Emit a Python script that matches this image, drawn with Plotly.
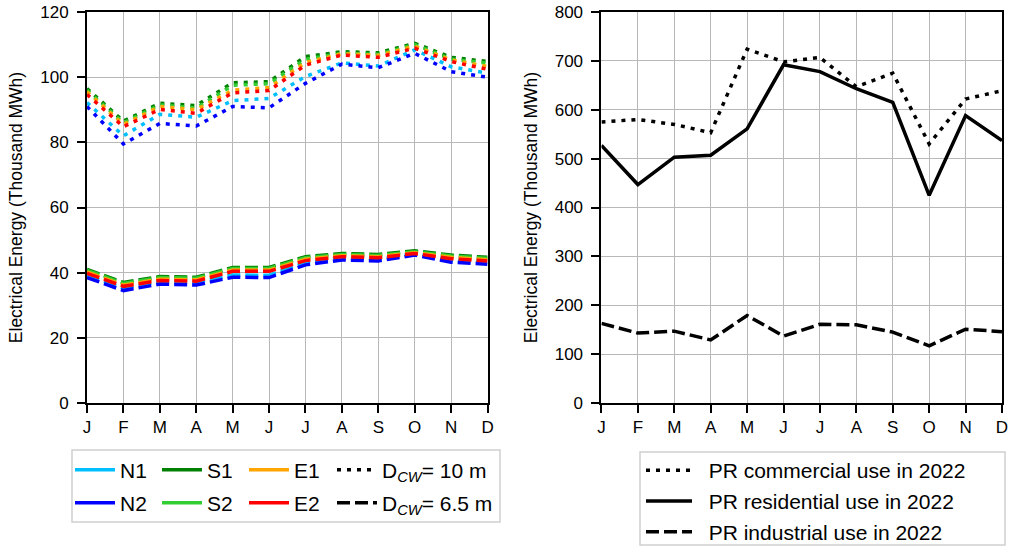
import plotly.graph_objects as go
from plotly.subplots import make_subplots

months = ['J', 'F', 'M', 'A', 'M', 'J', 'J', 'A', 'S', 'O', 'N', 'D']
xidx = list(range(len(months)))

# Left panel, D_CW = 10 m (dotted)
N1_10 = [92.2, 82.0, 88.6, 87.7, 92.8, 93.5, 100.2, 104.4, 103.4, 108.4, 103.2, 101.2]
N2_10 = [91.0, 79.5, 85.8, 85.0, 91.0, 90.6, 98.1, 104.0, 102.9, 107.3, 101.7, 100.0]
S1_10 = [96.5, 86.5, 92.0, 91.3, 98.3, 98.6, 106.3, 107.8, 107.5, 110.4, 106.1, 104.8]
S2_10 = [96.0, 86.0, 91.5, 90.5, 97.5, 98.0, 105.5, 107.3, 107.0, 110.0, 105.5, 104.3]
E1_10 = [95.5, 85.5, 91.0, 90.0, 96.0, 96.8, 104.5, 107.2, 106.7, 109.5, 105.3, 103.3]
E2_10 = [94.7, 84.8, 90.1, 88.9, 95.2, 95.9, 103.7, 106.8, 106.1, 108.9, 104.8, 102.4]

# Left panel, D_CW = 6.5 m (dashed)
N1_65 = [39.2, 35.2, 37.2, 36.9, 39.3, 39.2, 43.1, 44.5, 44.2, 45.8, 43.8, 43.2]
N2_65 = [38.5, 34.5, 36.5, 36.2, 38.6, 38.5, 42.4, 43.9, 43.6, 45.4, 43.2, 42.6]
S1_65 = [41.0, 37.0, 38.8, 38.6, 41.6, 41.6, 44.9, 45.9, 45.6, 46.7, 45.4, 44.7]
S2_65 = [40.7, 36.7, 38.5, 38.3, 41.3, 41.3, 44.6, 45.6, 45.3, 46.4, 45.1, 44.4]
E1_65 = [40.2, 36.2, 38.0, 37.8, 40.8, 40.8, 44.1, 45.2, 44.9, 46.1, 44.7, 44.0]
E2_65 = [39.8, 35.8, 37.6, 37.4, 40.4, 40.4, 43.7, 44.9, 44.6, 45.9, 44.3, 43.6]

# Right panel (PR use in 2022)
commercial = [575, 580, 570, 553, 724, 698, 707, 647, 675, 530, 622, 639]
residential = [527, 447, 503, 507, 561, 692, 678, 643, 615, 425, 588, 537]
industrial = [163, 143, 147, 129, 179, 137, 161, 160, 145, 117, 151, 146]

names = ['N1', 'N2', 'S1', 'S2', 'E1', 'E2']
colors = {'N1': '#00BFFF', 'N2': '#0000FF', 'S1': '#008000',
          'S2': '#32CD32', 'E1': '#FFA500', 'E2': '#FF0000'}
data10 = {'N1': N1_10, 'N2': N2_10, 'S1': S1_10, 'S2': S2_10, 'E1': E1_10, 'E2': E2_10}
data65 = {'N1': N1_65, 'N2': N2_65, 'S1': S1_65, 'S2': S2_65, 'E1': E1_65, 'E2': E2_65}

FONT = 'Arial, Liberation Sans, sans-serif'
DOT_L = '4px,6px'
DASH_L = '13px,5px'
LEGFONT = dict(family=FONT, size=21, color='black')
NB = '\u00a0\u00a0'

fig = make_subplots(rows=1, cols=2, horizontal_spacing=0.1245)

for n in names:
    fig.add_trace(go.Scatter(x=xidx, y=data10[n], mode='lines', showlegend=False,
                             line=dict(color=colors[n], width=3.5, dash=DOT_L)), row=1, col=1)
for n in names:
    fig.add_trace(go.Scatter(x=xidx, y=data65[n], mode='lines', showlegend=False,
                             line=dict(color=colors[n], width=3.5, dash=DASH_L)), row=1, col=1)

fig.add_trace(go.Scatter(x=xidx, y=commercial, mode='lines', name=NB + 'PR commercial use in 2022',
                         legend='legend6', legendgroup='c',
                         line=dict(color='black', width=3.5, dash=DOT_L)), row=1, col=2)
fig.add_trace(go.Scatter(x=xidx, y=residential, mode='lines', name=NB + 'PR residential use in 2022',
                         legend='legend6', legendgroup='r',
                         line=dict(color='black', width=3.5)), row=1, col=2)
fig.add_trace(go.Scatter(x=xidx, y=industrial, mode='lines', name=NB + 'PR industrial use in 2022',
                         legend='legend6', legendgroup='i',
                         line=dict(color='black', width=3.5, dash=DASH_L)), row=1, col=2)

# legend entries for left panel
for lg, row in (('legend', ['N1', 'S1', 'E1']), ('legend2', ['N2', 'S2', 'E2'])):
    for label in row:
        fig.add_trace(go.Scatter(x=[None], y=[None], mode='lines', name=label, legend=lg,
                                 line=dict(color=colors[label], width=3.5)), row=1, col=1)
fig.add_trace(go.Scatter(x=[None], y=[None], mode='lines', name='D<sub><i>CW</i></sub>= 10 m',
                         legend='legend4', line=dict(color='black', width=3.5, dash=DOT_L)),
              row=1, col=1)
fig.add_trace(go.Scatter(x=[None], y=[None], mode='lines', name='D<sub><i>CW</i></sub>= 6.5 m',
                         legend='legend5', line=dict(color='black', width=3.5, dash=DASH_L)),
              row=1, col=1)

axis_common = dict(showline=True, linecolor='black', linewidth=2, mirror=True,
                   ticks='outside', ticklen=8, tickwidth=1.5, tickcolor='black',
                   showgrid=True, gridcolor='#b8b8b8', gridwidth=1, zeroline=False,
                   tickfont=dict(family=FONT, size=17, color='black'))

for c in (1, 2):
    fig.update_xaxes(range=[0, 11], tickvals=xidx, ticktext=months, row=1, col=c, **axis_common)

ytitle = dict(text='Electrical Energy (Thousand MWh)', standoff=13,
              font=dict(family=FONT, size=17.5, color='black'))
fig.update_yaxes(range=[0, 120], dtick=20, row=1, col=1, title=ytitle,
                 ticklabelstandoff=5, **axis_common)
fig.update_yaxes(range=[0, 800], dtick=100, row=1, col=2, title=ytitle,
                 ticklabelstandoff=5, **axis_common)

W, H = 1013, 547
ML, MR, MT, MB = 87, 11, 12, 144
PW, PH = W - ML - MR, H - MT - MB


def px(x):
    return (x - ML) / PW


def py(y):
    return (H - MB - y) / PH


leg_h = dict(orientation='h', xanchor='left', yanchor='middle', font=LEGFONT,
             bgcolor='rgba(0,0,0,0)', borderwidth=0, itemwidth=40)

fig.update_layout(
    width=W, height=H,
    margin=dict(l=ML, r=MR, t=MT, b=MB, autoexpand=False),
    plot_bgcolor='white', paper_bgcolor='white',
    legend=dict(x=px(70), y=py(470), entrywidth=32, entrywidthmode='pixels', **leg_h),
    legend2=dict(x=px(70), y=py(503), entrywidth=32, entrywidthmode='pixels', **leg_h),
    legend4=dict(x=px(332), y=py(470), **leg_h),
    legend5=dict(x=px(332), y=py(503), **leg_h),
    legend6=dict(x=px(641), y=py(501), xanchor='left', yanchor='middle',
                 orientation='v', tracegroupgap=0.5, itemwidth=46, font=LEGFONT,
                 bgcolor='rgba(0,0,0,0)', borderwidth=0),
    shapes=[dict(type='rect', xref='paper', yref='paper',
                 x0=px(72), x1=px(500), y0=py(450), y1=py(522),
                 line=dict(color='#d0d0d0', width=1.5), layer='above'),
            dict(type='rect', xref='paper', yref='paper',
                 x0=px(640), x1=px(1005), y0=py(452), y1=py(545),
                 line=dict(color='#d0d0d0', width=1.5), layer='above')],
)

fig.write_html('out.html', config={'displayModeBar': False},
               post_script="document.body.style.margin='0px';")
